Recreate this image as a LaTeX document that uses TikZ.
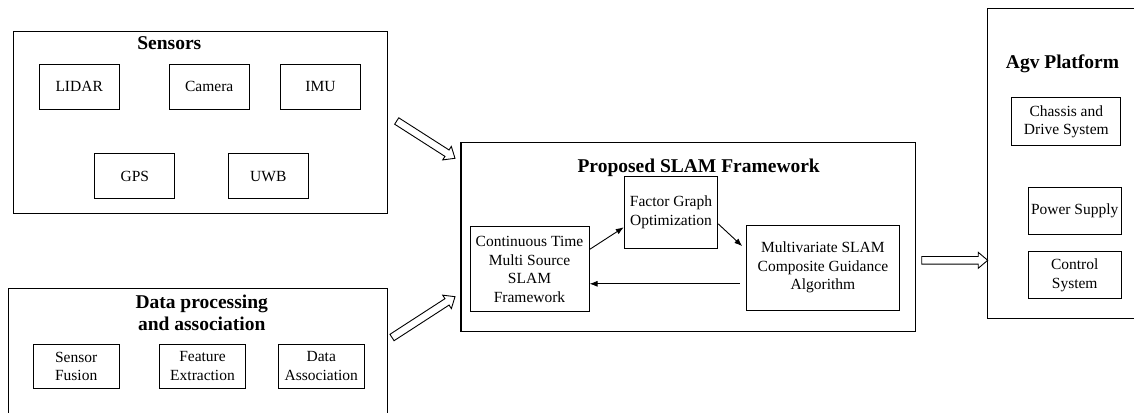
\documentclass[tikz,border=0pt]{standalone}
\usepackage{fontspec}
\setmainfont{Liberation Serif}
\usetikzlibrary{calc,arrows.meta}
\newcommand\blockarrow[2]{%
  \coordinate (hh) at ($(#2)!9.5pt!(#1)$);
  \draw[hollow] ($(#1)!3.8pt!90:(#2)$) -- ($(hh)!3.8pt!-90:(#1)$) -- ($(hh)!8pt!-90:(#1)$) -- (#2)
    -- ($(hh)!8pt!90:(#1)$) -- ($(hh)!3.8pt!90:(#1)$) -- ($(#1)!3.8pt!-90:(#2)$) -- cycle;}
\begin{document}
\begin{tikzpicture}[x=1pt,y=-1pt,
  box/.style={draw, line width=1pt, inner sep=0pt, align=center,
    font=\fontsize{15.5}{18.5}\selectfont},
  frame/.style={draw, line width=1.1pt, inner sep=0pt},
  ttl/.style={font=\fontsize{19.5}{22}\selectfont\bfseries, align=center, inner sep=0pt},
  hollow/.style={draw, line width=0.9pt, line join=miter, fill=white},
  thin/.style={line width=0.9pt, -{Latex[length=8pt,width=6pt]}}]
\clip (0,0) rectangle (1134,412);
\fill[white] (0,0) rectangle (1134,412);

% Sensors
\node[frame, minimum width=374.4pt, minimum height=182pt] (sens) at (200.5,122.3) {};
\node[ttl] (senst) at (169.3,42.7) {Sensors};
\node[box, minimum width=80.3pt, minimum height=45pt] (lidar) at (79.2,86.8) {LIDAR};
\node[box, minimum width=80.3pt, minimum height=45pt] (cam) at (209.2,86.8) {Camera};
\node[box, minimum width=80.3pt, minimum height=45pt] (imu) at (320.5,86.8) {IMU};
\node[box, minimum width=80.3pt, minimum height=45.3pt] (gps) at (134.8,176.3) {GPS};
\node[box, minimum width=80.3pt, minimum height=45.3pt] (uwb) at (268.3,176.3) {UWB};

% Data processing
\node[frame, minimum width=379.4pt, minimum height=160pt, anchor=north] (data) at (198,288.3) {};
\node[ttl] (datat) at (201.7,313.3) {Data processing\\and association};
\node[box, minimum width=85.7pt, minimum height=44.3pt] (sf) at (76.2,366.2) {Sensor\\Fusion};
\node[box, minimum width=86.4pt, minimum height=44.3pt] (fe) at (202.5,366.2) {Feature\\Extraction};
\node[box, minimum width=86pt, minimum height=44.3pt] (da) at (321.3,366.2) {Data\\Association};

% SLAM
\node[frame, minimum width=454.7pt, minimum height=189.2pt] (slam) at (688.3,237.1) {};
\node[ttl] (slamt) at (698.7,168.3) {Proposed SLAM Framework};
\node[box, minimum width=93.4pt, minimum height=72.3pt, fill=white] (fg) at (671,212.2) {Factor Graph\\Optimization};
\node[box, minimum width=119pt, minimum height=85pt] (ct) at (529.5,269.2) {Continuous Time\\Multi Source\\SLAM\\Framework};
\node[box, minimum width=152.3pt, minimum height=85pt] (mv) at (822.9,267.5) {Multivariate SLAM\\Composite Guidance\\Algorithm};

% AGV
\node[frame, minimum width=170pt, minimum height=310pt, anchor=north west] (agv) at (986.7,8.3) {};
\node[ttl] (agvt) at (1062.5,64) {Agv Platform};
\node[box, minimum width=109.3pt, minimum height=48pt] (ch) at (1066.3,121.7) {Chassis and\\Drive System};
\node[box, minimum width=92.7pt, minimum height=47pt] (ps) at (1074.7,210.8) {Power Supply};
\node[box, minimum width=92.7pt, minimum height=47.3pt] (cs) at (1074.7,275.3) {Control\\System};

% thin arrows
\draw[thin] ($(ct.north east)+(0,23.3)$) -- ($(fg.south west)+(0,-21.6)$);
\draw[thin] ($(fg.south east)+(0,-25)$) -- ($(mv.north west)+(-4,21.7)$);
\coordinate (back) at ($(mv.south west)+(-6.7,-26.7)$);
\draw[thin] (back) -- (ct.east |- back);

% hollow arrows
\coordinate (a1s) at (396.7,121);
\coordinate (a1e) at (455,158.3);
\coordinate (a2s) at (392,337.5);
\coordinate (a2e) at (455,296.7);
\coordinate (a3s) at (921.7,260.3);
\coordinate (a3e) at (987.7,260.3);
\blockarrow{a1s}{a1e}
\blockarrow{a2s}{a2e}
\blockarrow{a3s}{a3e}
\end{tikzpicture}
\end{document}
